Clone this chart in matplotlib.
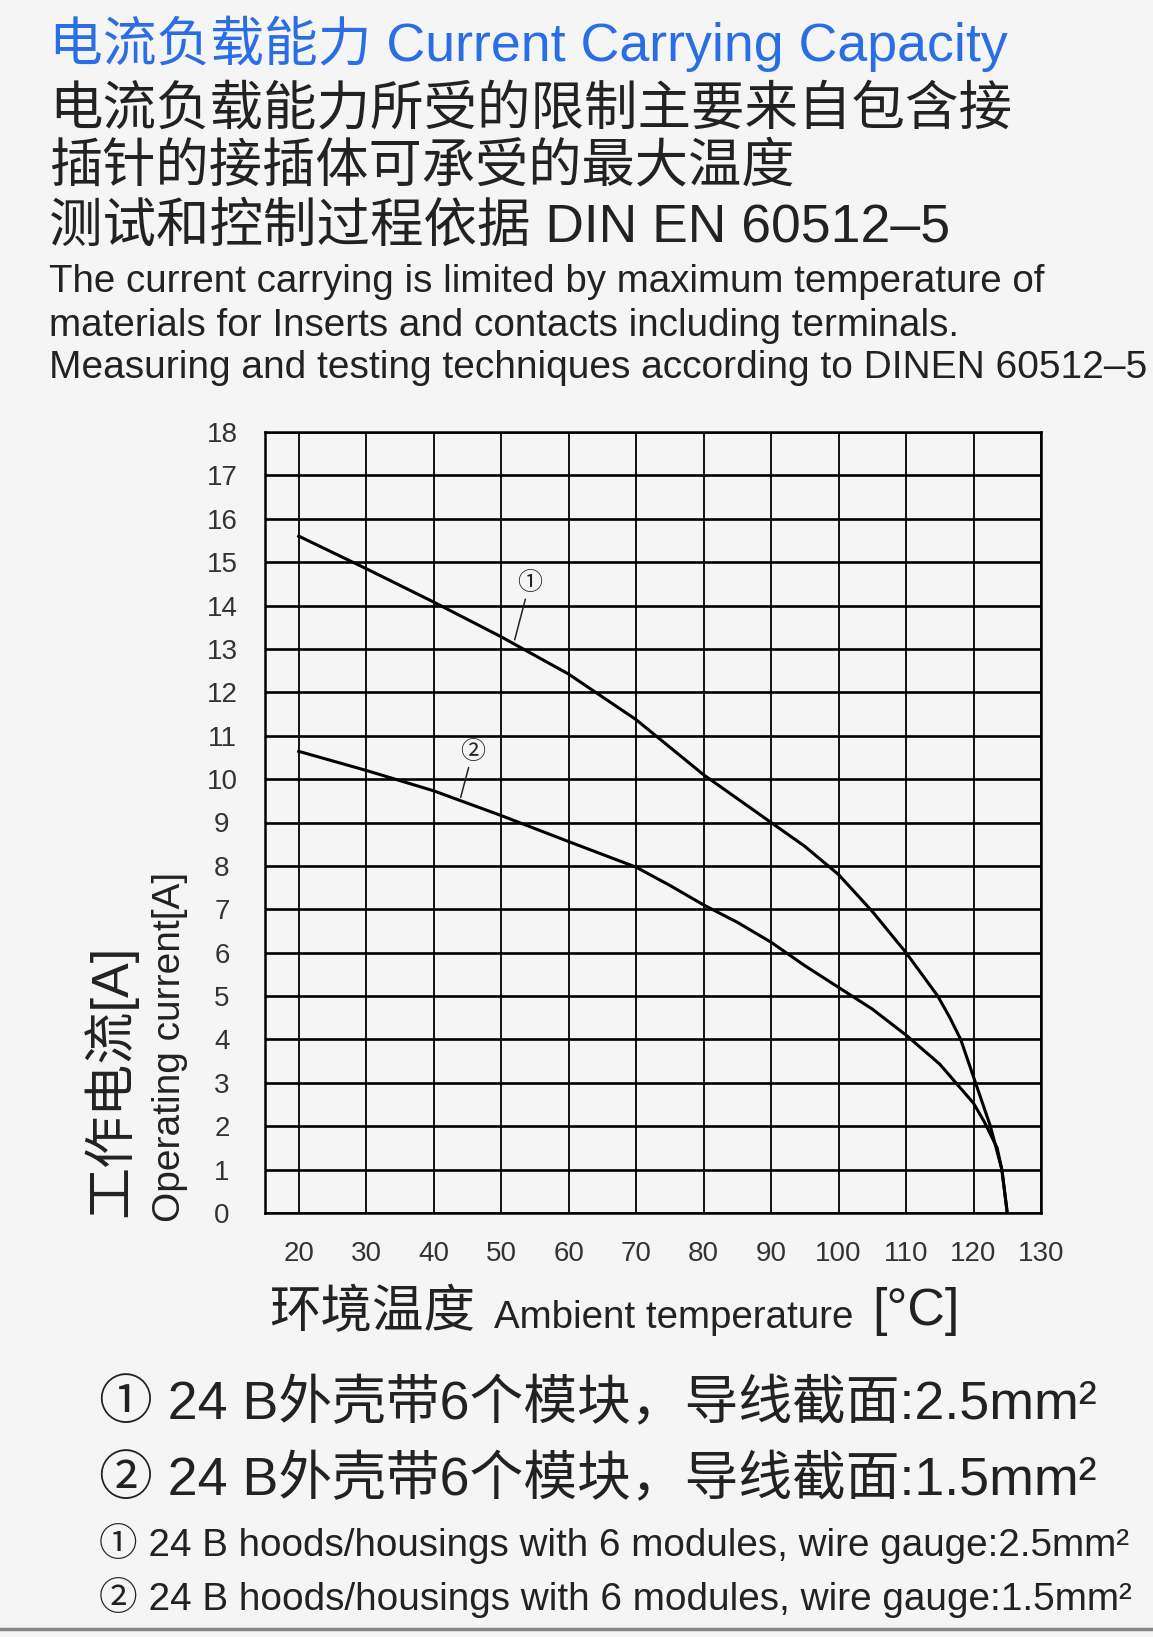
import matplotlib
matplotlib.use("Agg")
import matplotlib.pyplot as plt
from matplotlib.lines import Line2D
from matplotlib import font_manager

W, H = 1153, 1637
LATIN = "Liberation Sans"
CJK = "Noto Sans CJK SC"
FAM = [LATIN, CJK, "DejaVu Sans"]
plt.rcParams["font.family"] = FAM

try:
    font_manager.findfont("Liberation Sans Narrow", fallback_to_default=False)
    NARROW = "Liberation Sans Narrow"
except Exception:
    NARROW = LATIN

# curve 1: 2.5mm2, curve 2: 1.5mm2 (ambient temp -> operating current)
temp_1 = [20, 30, 40, 50, 60, 70, 80, 90, 95, 100, 105, 110, 114.7, 116.5, 118.1, 120.3, 122.5, 124.2, 125]
curr_1 = [15.6, 14.85, 14.08, 13.28, 12.42, 11.37, 10.1, 9.0, 8.45, 7.8, 6.95, 6.0, 5.0, 4.5, 4.0, 3.0, 2.0, 1.0, 0]
temp_2 = [20, 30, 40, 50, 60, 70, 75, 80, 85, 90, 95, 100, 105, 110, 115, 120, 121.6, 123.5, 124.2, 125]
curr_2 = [10.64, 10.2, 9.73, 9.16, 8.56, 7.97, 7.55, 7.1, 6.7, 6.24, 5.7, 5.2, 4.7, 4.1, 3.43, 2.53, 2.1, 1.5, 1.0, 0]

x_ticks = [20, 30, 40, 50, 60, 70, 80, 90, 100, 110, 120, 130]
y_ticks = list(range(0, 19))

title_cn = "电流负载能力 Current Carrying Capacity"
intro_cn = ["电流负载能力所受的限制主要来自包含接",
            "插针的接插体可承受的最大温度",
            "测试和控制过程依据 DIN EN 60512–5"]
intro_en = ["The current carrying is limited by maximum temperature of",
            "materials for Inserts and contacts including terminals.",
            "Measuring and testing techniques according to DINEN 60512–5"]
legend_lines = ["① 24 B外壳带6个模块，导线截面:2.5mm²",
                "② 24 B外壳带6个模块，导线截面:1.5mm²",
                "① 24 B hoods/housings with 6 modules, wire gauge:2.5mm²",
                "② 24 B hoods/housings with 6 modules, wire gauge:1.5mm²"]

BG = "#f5f5f5"
INK = "#222222"

fig = plt.figure(figsize=(W / 100, H / 100), dpi=100, facecolor=BG)
ax = fig.add_axes([265 / W, 1 - 1213 / H, 776 / W, 781 / H])
ax.set_facecolor(BG)


def put(x, y, s, size, **kw):
    kw.setdefault("color", INK)
    return fig.text(x / W, 1 - y / H, s, fontsize=size, **kw)


def fit(t, px, vertical=False):
    r = fig.canvas.get_renderer()
    bb = t.get_window_extent(r)
    cur = bb.height if vertical else bb.width
    t.set_fontsize(t.get_fontsize() * px / cur)


# header text
t = put(49, 44, title_cn, 38, color="#2a6ee6", va="center")
fit(t, 959)
for y, s, w in zip([110, 167, 228], intro_cn, [962, 745, 901]):
    t = put(49, y, s, 38, va="center")
    fit(t, w)
for y, s, w in zip([282, 326, 368], intro_en, [996, 910, 1098]):
    t = put(49, y, s, 28, va="center")
    fit(t, w)

# grid + curves
ax.set_xlim(15, 130)
ax.set_ylim(0, 18)
ax.set_xticks(x_ticks)
ax.set_yticks(y_ticks)
ax.xaxis.grid(True, color="k", lw=1.3)
ax.yaxis.grid(True, color="k", lw=1.9)
ax.tick_params(length=0, labelsize=20, labelcolor="#333333")
ax.tick_params(axis="x", pad=20)
ax.tick_params(axis="y", pad=31)
for lab in ax.get_xticklabels() + ax.get_yticklabels():
    lab.set_family([NARROW, LATIN])
for lab in ax.get_yticklabels():
    lab.set_horizontalalignment("center")
for sp in ax.spines.values():
    sp.set_linewidth(1.8)
ax.plot(temp_1, curr_1, color="k", lw=2.2, zorder=3)
ax.plot(temp_2, curr_2, color="k", lw=2.2, zorder=3)

ax.annotate("①", xy=(52.0, 13.21), xytext=(54.2, 14.51), ha="center", va="center",
            fontsize=18, family=CJK, color=INK,
            arrowprops=dict(arrowstyle="-", lw=1.1, color=INK, shrinkA=0, shrinkB=0))
ax.annotate("②", xy=(44.0, 9.58), xytext=(45.8, 10.63), ha="center", va="center",
            fontsize=18, family=CJK, color=INK,
            arrowprops=dict(arrowstyle="-", lw=1.1, color=INK, shrinkA=0, shrinkB=0))

# axis titles
t = put(110, 1217, "工作电流[A]", 37, rotation=90, ha="center", va="bottom")
fit(t, 272, vertical=True)
t = put(170, 1222, "Operating current[A]", 30, rotation=90, ha="center", va="bottom")
fit(t, 350, vertical=True)

t = put(269, 1314, "环境温度", 35, va="center")
fit(t, 206)
t = put(494, 1318, "Ambient temperature", 27, va="center")
fit(t, 360)
t = put(872, 1312, "[°C]", 38, va="center")
fit(t, 87)

# legend text
for y, s, w in zip([1405, 1481, 1544, 1598], legend_lines, [998, 998, 1032, 1032]):
    t = put(99, y, s, 36 if y < 1500 else 26, va="center")
    fit(t, w)

fig.add_artist(Line2D([0, 1], [1 - 1629 / H] * 2, color="#888888", lw=2.5))

fig.savefig("out.png", dpi=100, facecolor=BG)
